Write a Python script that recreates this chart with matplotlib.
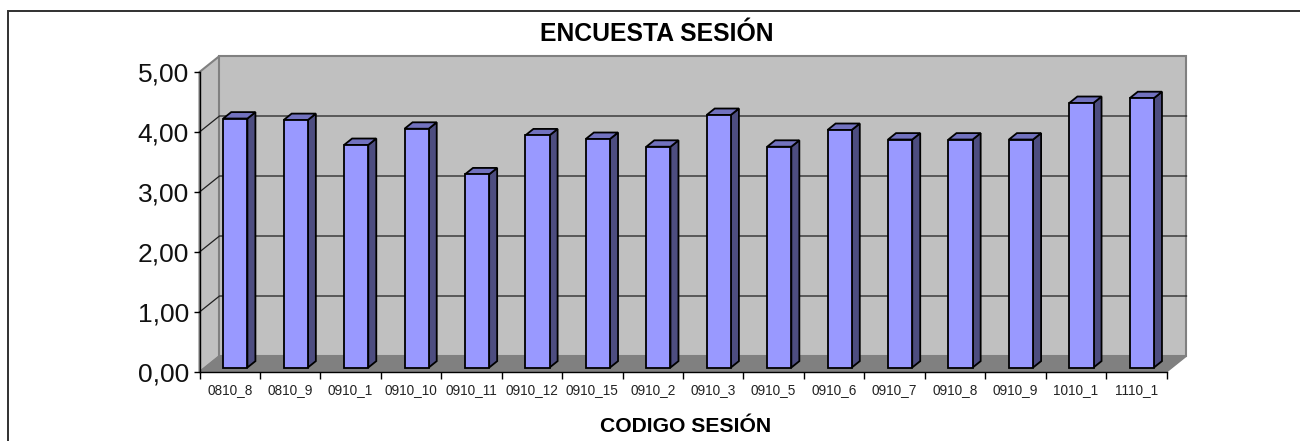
import matplotlib
matplotlib.use("Agg")
import matplotlib.pyplot as plt
from matplotlib.patches import Rectangle

plt.rcParams['font.family'] = ['Liberation Sans', 'DejaVu Sans']

#Data
codigos = ['0810_8', '0810_9', '0910_1', '0910_10', '0910_11', '0910_12', '0910_15', '0910_2',
           '0910_3', '0910_5', '0910_6', '0910_7', '0910_8', '0910_9', '1010_1', '1110_1']
valores = [4.15, 4.125, 3.71, 3.98, 3.22, 3.87, 3.81, 3.68,
           4.21, 3.68, 3.96, 3.80, 3.80, 3.80, 4.41, 4.49]
y_ticks = [0, 1, 2, 3, 4, 5]
y_labels = ['0,00', '1,00', '2,00', '3,00', '4,00', '5,00']

#3D look: how far the back wall is shifted, in data units
DX = 20 / 60.44
DY = 16 / 60
BAR_W = 0.40
D0, D1 = 0.28, 0.68

WALL = '#c0c0c0'
FLOOR = '#808080'
FACE = '#9999ff'
TOP = '#7272bf'
SIDE = '#4d4d80'


def sh(x, y, d):
    return x + d * DX, y + d * DY


def poly(ax, pts, color, edge='black', lw=1.3, z=2):
    ax.fill([p[0] for p in pts], [p[1] for p in pts], facecolor=color, edgecolor=edge,
            linewidth=lw, clip_on=False, zorder=z, joinstyle='miter')


fig = plt.figure(figsize=(13, 4.41), dpi=100)
#outer frame runs off the right and bottom of the picture
fig.add_artist(Rectangle((8 / 1300, -0.1), 1.1, 1.1 - 11 / 441, transform=fig.transFigure,
                         fill=False, edgecolor='#303030', linewidth=1.4))

ax = fig.add_axes([199.5 / 1300, 69 / 441, 967 / 1300, 300 / 441])
ax.set_xlim(-0.5, 15.5)
ax.set_ylim(0, 5)
ax.patch.set_visible(False)
x0, x1 = -0.5, 15.5

#walls and floor
poly(ax, [sh(x0, 0, 0), sh(x0, 0, 1), sh(x0, 5, 1), sh(x0, 5, 0)], WALL, edge='#808080', lw=1.5, z=1)
poly(ax, [sh(x0, 0, 1), sh(x1, 0, 1), sh(x1, 5, 1), sh(x0, 5, 1)], WALL, edge='#808080', lw=1.5, z=1)
poly(ax, [sh(x0, 0, 0), sh(x1, 0, 0), sh(x1, 0, 1), sh(x0, 0, 1)], FLOOR, edge='#808080', lw=1, z=1)

#gridlines on side and back wall
for t in y_ticks[1:-1]:
    ax.plot([sh(x0, t, 0)[0], sh(x0, t, 1)[0], sh(x1, t, 1)[0]],
            [sh(x0, t, 0)[1], sh(x0, t, 1)[1], sh(x1, t, 1)[1]],
            color='#202020', lw=0.9, clip_on=False, zorder=1.5)

#bars
for i, v in enumerate(valores):
    l = i - BAR_W / 2
    r = l + BAR_W
    poly(ax, [sh(r, 0, D0), sh(r, 0, D1), sh(r, v, D1), sh(r, v, D0)], SIDE)
    poly(ax, [sh(l, v, D0), sh(r, v, D0), sh(r, v, D1), sh(l, v, D1)], TOP)
    poly(ax, [sh(l, 0, D0), sh(r, 0, D0), sh(r, v, D0), sh(l, v, D0)], FACE)

#axes
for s in ['top', 'right']:
    ax.spines[s].set_visible(False)
for s in ['left', 'bottom']:
    ax.spines[s].set_linewidth(1)
    ax.spines[s].set_zorder(3)
ax.set_yticks(y_ticks)
ax.set_yticklabels(y_labels, fontsize=19, color='#111111')
ax.tick_params(axis='y', length=4, width=1, pad=3.5)
ax.set_xticks(range(len(codigos)))
ax.set_xticklabels(codigos, fontsize=9.8, color='#222222')
ax.tick_params(axis='x', which='major', length=0, pad=8)
ax.set_xticks([i - 0.5 for i in range(len(codigos) + 1)], minor=True)
ax.tick_params(axis='x', which='minor', length=5, width=1)

fig.text(657 / 1300, 1 - 34 / 441, 'ENCUESTA SESIÓN', ha='center', va='center',
         fontsize=17.8, fontweight='bold')
fig.text(685.5 / 1300, 1 - 427 / 441, 'CODIGO SESIÓN', ha='center', va='center',
         fontsize=15.2, fontweight='bold')

fig.savefig('out.png', dpi=100)
